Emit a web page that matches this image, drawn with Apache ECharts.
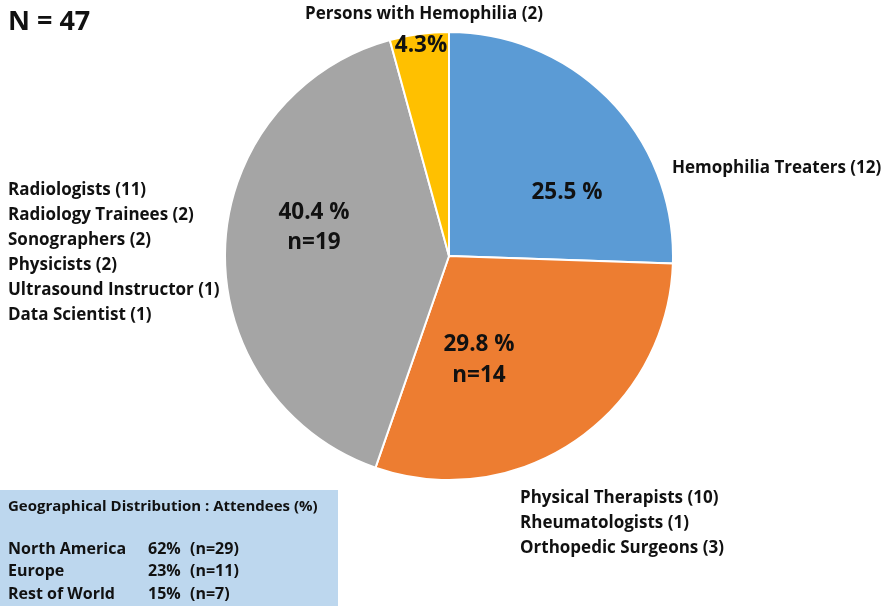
<!DOCTYPE html>
<html><head><meta charset="utf-8">
<script src="https://cdn.jsdelivr.net/npm/echarts@6/dist/echarts.min.js"></script>
<style>html,body{margin:0;padding:0;background:#fff}#c{width:883px;height:606px}</style>
</head><body><div id="c"></div>
<script>
const categories = ['Hemophilia Treaters', 'Physical Therapists etc.', 'Radiology group', 'Persons with Hemophilia'];
const counts = [12, 14, 19, 2];
const colors = ['#5B9BD5', '#ED7D31', '#A5A5A5', '#FFC000'];
const outsideLabels = [
  ['Hemophilia Treaters (12)'],
  ['Physical Therapists (10)', 'Rheumatologists (1)', 'Orthopedic Surgeons (3)'],
  ['Radiologists (11)', 'Radiology Trainees (2)', 'Sonographers (2)', 'Physicists (2)', 'Ultrasound Instructor (1)', 'Data Scientist (1)'],
  ['Persons with Hemophilia (2)']
];
const geoRegions = ['North America', 'Europe', 'Rest of World'];
const geoPct = [62, 23, 15];
const geoN = [29, 11, 7];

const total = counts.reduce((a, b) => a + b, 0);
const pct = counts.map(v => (v / total * 100).toFixed(1));
const FONT = '"Open Sans"';
const TXT = '#111';

const chart = echarts.init(document.getElementById('c'));
const g = [];
function txt(x, y, text, size, extra) {
  g.push({ type: 'text', x: x, y: y, z: 100, style: Object.assign({ text: text, font: 'bold ' + size + 'px ' + FONT, fill: TXT, textVerticalAlign: 'middle' }, extra || {}) });
}
txt(8, 22, 'N = ' + total, 27);
// inside labels
txt(567, 193, pct[0] + ' %', 22.5, { textAlign: 'center' });
txt(479, 345, pct[1] + ' %', 22.5, { textAlign: 'center' });
txt(479, 376, 'n=' + counts[1], 22.5, { textAlign: 'center' });
txt(314, 213, pct[2] + ' %', 22.5, { textAlign: 'center' });
txt(314, 243, 'n=' + counts[2], 22.5, { textAlign: 'center' });
txt(421, 46, (+pct[3]).toFixed(1) + '%', 22.5, { textAlign: 'center' });
// outside labels
txt(672, 168, outsideLabels[0][0], 17);
outsideLabels[1].forEach((s, i) => txt(520, 498 + i * 25, s, 17));
outsideLabels[2].forEach((s, i) => txt(8, 190 + i * 25, s, 17));
txt(424, 14, outsideLabels[3][0], 17, { textAlign: 'center' });
// geo box
g.push({ type: 'rect', shape: { x: 0, y: 490, width: 338, height: 116 }, style: { fill: '#BDD7EE' }, z: -1 });
txt(8, 507, 'Geographical Distribution : Attendees (%)', 15);
geoRegions.forEach((r, i) => {
  const y = 549 + i * 22.5;
  txt(8, y, r, 16);
  txt(148, y, geoPct[i] + '%', 16);
  txt(190, y, '(n=' + geoN[i] + ')', 16);
});

chart.setOption({
  animation: false,
  graphic: g,
  series: [{
    type: 'pie',
    center: [449, 256],
    radius: 224,
    startAngle: 90,
    clockwise: true,
    label: { show: false },
    labelLine: { show: false },
    itemStyle: { borderColor: '#fff', borderWidth: 2 },
    emphasis: { disabled: true },
    data: counts.map((v, i) => ({ value: v, name: categories[i], itemStyle: { color: colors[i] } }))
  }]
});
</script></body></html>
